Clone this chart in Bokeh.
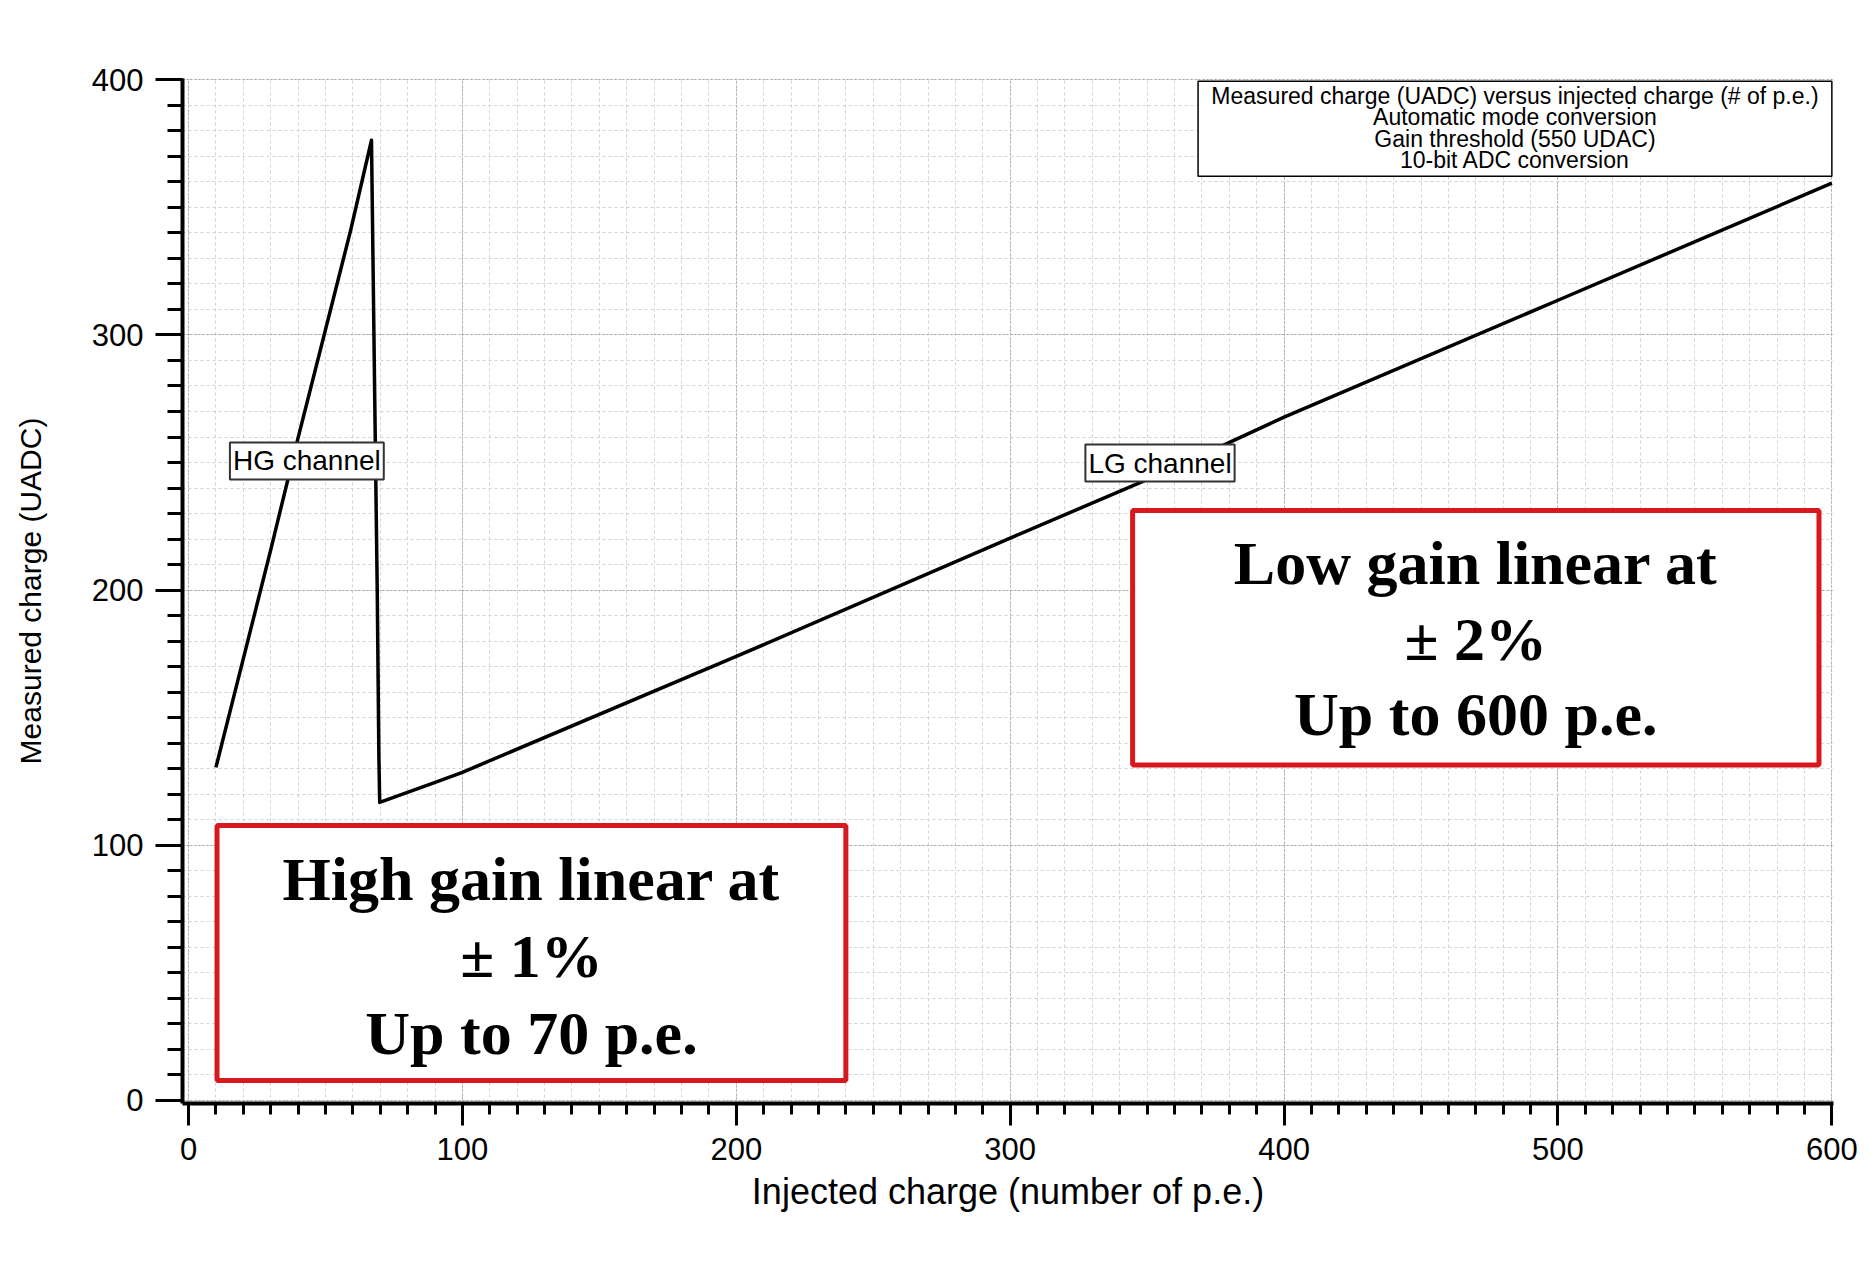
from bokeh.plotting import figure
from bokeh.models import SingleIntervalTicker, Label, Range1d
from bokeh.core.properties import value
from bokeh.embed import file_html
from bokeh.resources import INLINE

# ---- data ----
injected = [10.0, 29.9, 39.7, 59.1, 66.8, 68.0, 68.9, 69.5, 69.8, 88.3, 100, 200,
            300, 347.4, 378.5, 400, 500, 600]
measured = [130.5, 215.3, 258.4, 340.6, 376.3, 274.0, 200.0, 135.0, 116.8, 124.0,
            128.6, 174.0, 220.4, 242.1, 257.1, 267.8, 313.6, 359.5]

x_title = "Injected charge (number of p.e.)"
y_title = "Measured charge (UADC)"
info_lines = ["Measured charge (UADC) versus injected charge (# of p.e.)",
              "Automatic mode conversion",
              "Gain threshold (550 UDAC)",
              "10-bit ADC conversion"]
hg_lines = ["High gain linear at", "\u00b1 1%", "Up to 70 p.e."]
lg_lines = ["Low gain linear at", "\u00b1 2%", "Up to 600 p.e."]
channel_labels = ["HG channel", "LG channel"]

# ---- figure ----
p = figure(width=1875, height=1261,
           x_range=Range1d(-2.2, 600.6), y_range=Range1d(-1.2, 400.5),
           output_backend="svg", toolbar_location=None,
           min_border_left=182, min_border_right=42,
           min_border_top=78, min_border_bottom=158)
p.outline_line_color = None
p.background_fill_color = "white"
p.border_fill_color = "white"

xt = SingleIntervalTicker(interval=100, num_minor_ticks=10)
yt = SingleIntervalTicker(interval=100, num_minor_ticks=10)
p.xaxis.ticker = xt
p.xgrid.ticker = xt
p.yaxis.ticker = yt
p.ygrid.ticker = yt

for g in (p.xgrid, p.ygrid):
    g.grid_line_color = "#a6a6a6"
    g.grid_line_dash = "2 2"
    g.grid_line_width = 1
    g.minor_grid_line_color = "#d2d2d2"
    g.minor_grid_line_dash = "3 3"
    g.minor_grid_line_width = 1

for ax in (p.xaxis, p.yaxis):
    ax.axis_line_width = 4
    ax.axis_line_color = "black"
    ax.major_tick_line_width = 3
    ax.minor_tick_line_width = 3
    ax.major_tick_line_color = "black"
    ax.minor_tick_line_color = "black"
    ax.major_tick_in = 0
    ax.minor_tick_in = 0
    ax.major_label_text_font = "Liberation Sans"
    ax.major_label_text_font_size = "31px"
    ax.major_label_text_color = "black"
    ax.axis_label_text_font = "Liberation Sans"
    ax.axis_label_text_font_style = "normal"
    ax.axis_label_text_color = "black"

p.xaxis.major_tick_out = 22
p.xaxis.minor_tick_out = 11
p.yaxis.major_tick_out = 27
p.yaxis.minor_tick_out = 15
p.xaxis.major_label_standoff = 12
p.yaxis.major_label_standoff = 12
p.xaxis.axis_label = x_title
p.yaxis.axis_label = y_title
p.xaxis.axis_label_text_font_size = "36px"
p.yaxis.axis_label_text_font_size = "30px"
p.xaxis.axis_label_standoff = 8
p.yaxis.axis_label_standoff = 42

# ---- curve ----
p.line(injected, measured, line_color="black", line_width=3.5, line_join="round")

# ---- info box (top right) ----
p.quad(left=[368.6], right=[600.0], bottom=[362.2], top=[399.4],
       fill_color="white", line_color="black", line_width=1.5)
p.text(x=[484.3] * 4, y=[393.7, 385.3, 376.9, 368.5], text=info_lines,
       text_font=value("Liberation Sans"), text_font_size="23px",
       text_align="center", text_baseline="middle", text_color="black")

# ---- red boxes ----
p.quad(left=[10.4, 344.7], right=[240.0, 595.3], bottom=[7.8, 131.5], top=[107.7, 231.2],
       fill_color="white", line_color="#d7191f", line_width=5)
p.text(x=[125.2] * 3, y=[86.6, 56.8, 26.6], text=hg_lines,
       text_font=value("Liberation Serif"), text_font_style="bold",
       text_font_size="62px", text_align="center", text_baseline="alphabetic",
       text_color="black")
p.text(x=[470.0] * 3, y=[210.8, 180.9, 151.5], text=lg_lines,
       text_font=value("Liberation Serif"), text_font_style="bold",
       text_font_size="62px", text_align="center", text_baseline="alphabetic",
       text_color="black")

# ---- channel labels ----
for (lx, ly), txt in zip([(43.2, 250.6), (354.7, 249.8)], channel_labels):
    p.add_layout(Label(x=lx, y=ly, text=txt, text_align="center", text_baseline="middle",
                       text_font="Liberation Sans", text_font_size="28px", text_color="black",
                       background_fill_color="white", border_line_color="#333333",
                       border_line_width=2, padding=3))

open("out.html", "w").write(file_html(p, INLINE))
